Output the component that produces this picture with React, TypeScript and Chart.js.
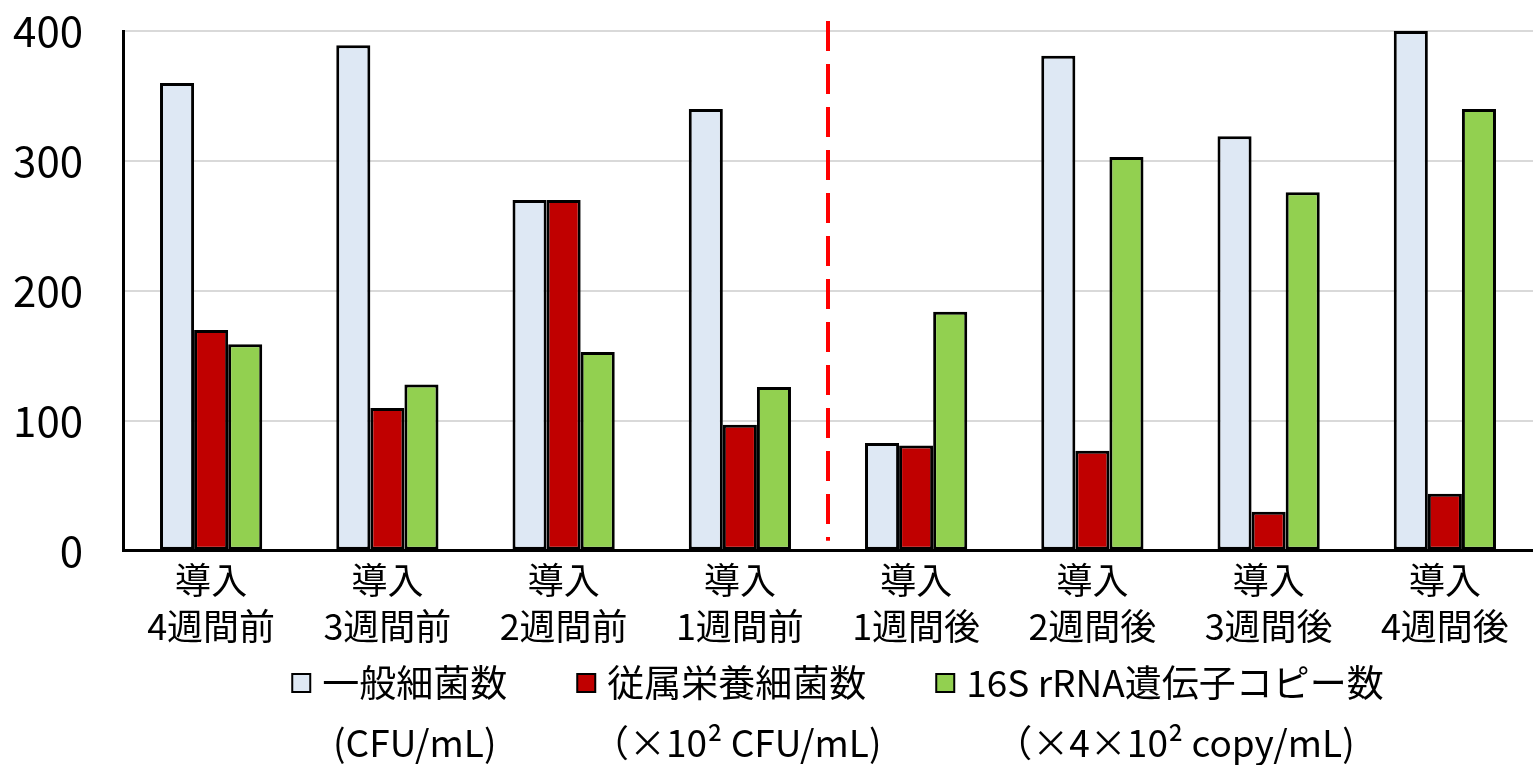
import React, { useEffect, useRef } from "react";
import { Chart, registerables } from "chart.js";

Chart.register(...registerables);

const FONT = "'Noto Sans CJK JP', 'Noto Sans', sans-serif";

const categories = [
  ["導入", "4週間前"],
  ["導入", "3週間前"],
  ["導入", "2週間前"],
  ["導入", "1週間前"],
  ["導入", "1週間後"],
  ["導入", "2週間後"],
  ["導入", "3週間後"],
  ["導入", "4週間後"],
];
const seriesNames = ["一般細菌数", "従属栄養細菌数", "16S rRNA遺伝子コピー数"];
const seriesUnits = ["(CFU/mL)", "（×10² CFU/mL)", "（×4×10² copy/mL)"];
const generalBacteria = [360, 389, 270, 340, 83, 381, 319, 400];
const heterotrophic = [170, 110, 270, 97, 81, 77, 30, 44];
const rRNA16S = [159, 128, 153, 126, 184, 303, 276, 340];
const seriesColors = ["#dee8f4", "#c00000", "#92d050"];
const yMin = 0;
const yMax = 400;
const yStep = 100;
const dividerAfterIndex = 3;

const dividerPlugin = {
  id: "divider",
  afterDatasetsDraw(chart: any) {
    const xs = chart.scales.x;
    const ca = chart.chartArea;
    const x = (xs.getPixelForValue(dividerAfterIndex) + xs.getPixelForValue(dividerAfterIndex + 1)) / 2;
    const ctx = chart.ctx;
    ctx.save();
    ctx.strokeStyle = "#ff0000";
    ctx.lineWidth = 4;
    ctx.setLineDash([30, 13]);
    ctx.beginPath();
    ctx.moveTo(x, ca.top - 10);
    ctx.lineTo(x, ca.bottom - 10);
    ctx.stroke();
    ctx.restore();
  },
};

const legendPlugin = {
  id: "customLegend",
  afterDraw(chart: any) {
    const ctx = chart.ctx;
    const ds = chart.data.datasets;
    ctx.save();
    ctx.font = `37px ${FONT}`;
    const box = 18;
    const gapBT = 12;
    const gapItems = 70;
    const textW = ds.map((d: any) => ctx.measureText(d.label).width);
    const widths = textW.map((w: number) => box + gapBT + w);
    const total = widths.reduce((a: number, b: number) => a + b, 0) + gapItems * (ds.length - 1);
    const ca = chart.chartArea;
    let x = (ca.left + ca.right) / 2 + 10 - total / 2;
    const y = chart.height - 82;
    const yUnits = chart.height - 22;
    ds.forEach((d: any, i: number) => {
      ctx.fillStyle = d.backgroundColor;
      ctx.fillRect(x, y - box / 2, box, box);
      ctx.lineWidth = 2;
      ctx.strokeStyle = "#000";
      ctx.strokeRect(x, y - box / 2, box, box);
      ctx.fillStyle = "#000";
      ctx.textAlign = "left";
      ctx.textBaseline = "middle";
      ctx.fillText(d.label, x + box + gapBT, y);
      ctx.textAlign = "center";
      ctx.fillText(seriesUnits[i], x + box + gapBT + textW[i] / 2, yUnits);
      x += widths[i] + gapItems;
    });
    ctx.restore();
  },
};

export default function App() {
  const ref = useRef<HTMLCanvasElement>(null);
  useEffect(() => {
    if (!ref.current) return;
    const values = [generalBacteria, heterotrophic, rRNA16S];
    const chart = new Chart(ref.current, {
      type: "bar",
      data: {
        labels: categories,
        datasets: seriesNames.map((name, i) => ({
          label: name,
          data: values[i],
          backgroundColor: seriesColors[i],
          borderColor: "#000",
          borderWidth: 3,
          borderSkipped: false,
          categoryPercentage: 0.58,
          barPercentage: 1,
        })),
      },
      options: {
        animation: false,
        responsive: true,
        maintainAspectRatio: false,
        layout: { padding: { top: 31, left: 0, right: 0, bottom: 110 } },
        plugins: {
          legend: { display: false },
          tooltip: { enabled: false },
        },
        scales: {
          x: {
            grid: { display: false, drawTicks: false },
            border: { display: true, color: "#000", width: 3 },
            ticks: {
              color: "#000",
              padding: 6,
              maxRotation: 0,
              autoSkip: false,
              font: { family: FONT, size: 36, lineHeight: 1.28 },
            },
          },
          y: {
            min: yMin,
            max: yMax,
            grid: { color: "#d9d9d9", lineWidth: 2, drawTicks: false },
            border: { display: true, color: "#000", width: 3 },
            ticks: {
              stepSize: yStep,
              color: "#000",
              padding: 40,
              font: { family: FONT, size: 42 },
            },
            afterFit(s: any) {
              s.paddingTop = 0;
              s.paddingBottom = 0;
              s.width = 123;
            },
          },
        },
      },
      plugins: [dividerPlugin, legendPlugin],
    });
    return () => chart.destroy();
  }, []);
  return (
    <div style={{ position: "fixed", left: 0, top: 0, width: "1533px", height: "765px", background: "#fff" }}>
      <canvas ref={ref} />
    </div>
  );
}
